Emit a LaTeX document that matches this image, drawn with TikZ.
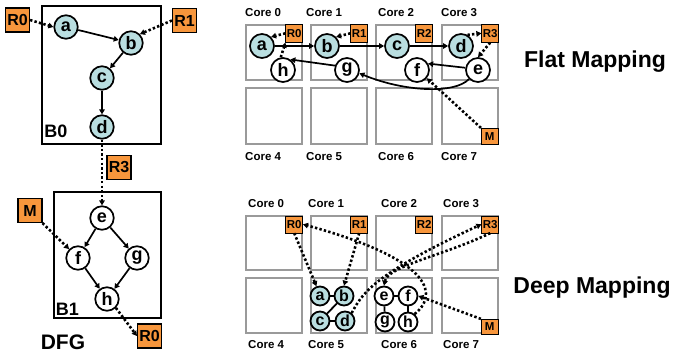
\documentclass[tikz,border=0pt]{standalone}
\usepackage{fontspec}
\setmainfont{Liberation Sans}
\usetikzlibrary{arrows.meta}
\definecolor{orng}{HTML}{F7963C}
\definecolor{opblue}{HTML}{B9DEE0}
\definecolor{coregray}{HTML}{9A9A9A}
\tikzset{
  corebox/.style={draw=coregray, line width=2.4pt, fill=white},
  reg/.style={draw=black, line width=0.6pt, fill=orng, inner sep=0pt, minimum width=17pt, minimum height=18pt, font=\bfseries\fontsize{11.5}{11.5}\selectfont},
  bigreg/.style={draw=black, line width=1.1pt, fill=orng, inner sep=0pt, minimum width=24pt, minimum height=24pt, font=\bfseries\fontsize{16}{16}\selectfont},
  opnode/.style={circle, draw=black, line width=1.7pt, inner sep=0pt, minimum size=24pt, font=\bfseries\fontsize{18}{18}\selectfont},
  dfgop/.style={opnode, minimum size=23.5pt},
  smallop/.style={circle, draw=black, line width=1.8pt, inner sep=0pt, minimum size=19pt, font=\bfseries\fontsize{16}{16}\selectfont},
  live/.style={fill=opblue},
  dead/.style={fill=white},
  flow/.style={line width=1.7pt, -{Triangle[length=5pt,width=5.5pt]}},
  link/.style={line width=1.8pt},
  dep/.style={line width=2.6pt, dash pattern=on 2.4pt off 2.2pt, -{Triangle[length=5pt,width=5.5pt]}},
  corelabel/.style={anchor=west, inner sep=0pt, font=\bfseries\fontsize{11.5}{12}\selectfont},
  blocklabel/.style={inner sep=0pt, font=\bfseries\fontsize{18}{18}\selectfont},
  title/.style={inner sep=0pt, font=\bfseries\fontsize{23}{23}\selectfont},
  blockbox/.style={draw=black, line width=1.1pt},
}
\begin{document}
\begin{tikzpicture}[x=1pt,y=-1pt]
\useasboundingbox (0,0) rectangle (676,356);

% ================= DFG =================
\draw[blockbox] (42,6) rectangle (161,144);
\draw[blockbox] (54,192) rectangle (161,318);
\node[blocklabel] (lb0) at (56,131) {B0};
\node[blocklabel] (lb1) at (67.5,309.5) {B1};
\node[inner sep=0pt, font=\bfseries\fontsize{21}{21}\selectfont] (ldfg) at (63,342.5) {DFG};

\node[dfgop,live] (Da) at (66,27) {a};
\node[dfgop,live] (Db) at (131,43) {b};
\node[dfgop,live] (Dc) at (102,78) {c};
\node[dfgop,live] (Dd) at (102,127) {d};
\node[dfgop,dead] (De) at (102,218) {e};
\node[dfgop,dead] (Df) at (78,258) {f};
\node[dfgop,dead] (Dg) at (137,258) {g};
\node[dfgop,dead] (Dh) at (107,299) {h};

\node[bigreg] (DR0) at (17.5,20) {R0};
\node[bigreg] (DR1) at (184.5,20.5) {R1};
\node[bigreg] (DR3) at (119,167.5) {R3};
\node[bigreg] (DM) at (30,210.5) {M};
\node[bigreg] (DR0b) at (149.5,336) {R0};

\draw[dep] (DR0.east) -- (Da.west);
\draw[dep] (DR1.west) -- (Db.north east);
\draw[flow] (Da) -- (Db);
\draw[flow] (Db) -- (Dc);
\draw[flow] (Dc) -- (Dd);
\draw[dep] (Dd.south) -- (De.north);
\draw[dep] (DM.south east) -- (Df.north west);
\draw[flow] (De) -- (Df);
\draw[flow] (De) -- (Dg);
\draw[flow] (Df) -- (Dh);
\draw[flow] (Dg) -- (Dh);
\draw[dep] (Dh.south east) -- (DR0b.west);

% ================= Flat mapping =================
\foreach \cx/\lx/\n/\m in {245/245/0/4, 310/306/1/5, 375/378/2/6, 441/441/3/7}{
  \draw[corebox] (\cx+1,25) rectangle (\cx+57,80);
  \draw[corebox] (\cx+1,88) rectangle (\cx+57,144);
  \node[corelabel] (fl\n) at (\lx,13) {Core \n};
  \node[corelabel] (fl\m) at (\lx,157) {Core \m};
}
\node[reg, anchor=north east] (FR0) at (303,24) {R0};
\node[reg, anchor=north east] (FR1) at (368,24) {R1};
\node[reg, anchor=north east] (FR2) at (433,24) {R2};
\node[reg, anchor=north east] (FR3) at (499,24) {R3};
\node[reg, anchor=south east, minimum height=16pt] (FM) at (498.5,144.5) {M};

\node[opnode,live] (Fa) at (262,46) {a};
\node[opnode,live] (Fb) at (327,46) {b};
\node[opnode,live] (Fc) at (397,46) {c};
\node[opnode,live] (Fd) at (461,46) {d};
\node[opnode,dead] (Fh) at (283,70) {h};
\node[opnode,dead] (Fg) at (347,70) {g};
\node[opnode,dead] (Ff) at (417,70) {f};
\node[opnode,dead] (Fe) at (478,70) {e};

\draw[dep] (FR0.west) -- (Fa.north east);
\draw[dep] (FR1.west) -- (Fb.north east);
\draw[dep] (Fh.100) -- (FR0.south west);
\draw[flow] (Fa.east) -- (Fb.west);
\draw[flow] (Fb.east) -- (Fc.west);
\draw[flow] (Fc.east) -- (Fd.west);
\draw[dep] (Fd.60) -- (FR3.west);
\draw[dep] (FR3.south) -- (Fe.north);
\draw[flow] (Fe.170) -- (Ff.30);
\draw[flow] (Fe.225) .. controls (455,94) and (405,92) .. (Fg.-15);
\draw[flow] (Fg.160) -- (Fh.55);
\draw[dep] (FM.north west) -- (Ff.-40);

\node[title] (tflat) at (595,62) {Flat Mapping};

% ================= Deep mapping =================
\foreach \cx/\lx/\n/\m in {245/248/0/4, 310/308/1/5, 375/381/2/6, 441/443/3/7}{
  \draw[corebox] (\cx+1,216) rectangle (\cx+57,270);
  \draw[corebox] (\cx+1,278) rectangle (\cx+57,333);
  \node[corelabel] (dl\n) at (\lx,204) {Core \n};
  \node[corelabel] (dl\m) at (\lx,345) {Core \m};
}
\node[reg, anchor=north east, minimum height=17pt] (PR0) at (303,215.5) {R0};
\node[reg, anchor=north east, minimum height=17pt] (PR1) at (368,215.5) {R1};
\node[reg, anchor=north east, minimum height=17pt] (PR2) at (433,215.5) {R2};
\node[reg, anchor=north east, minimum height=17pt] (PR3) at (499,215.5) {R3};
\node[reg, anchor=south east, minimum height=15pt] (PM) at (498.5,334.5) {M};

\node[smallop,live] (Pa) at (320,296) {a};
\node[smallop,live] (Pb) at (344,296) {b};
\node[smallop,live] (Pc) at (320,321) {c};
\node[smallop,live] (Pd) at (345,321) {d};
\node[smallop,dead] (Pe) at (384,296) {e};
\node[smallop,dead] (Pf) at (408,296) {f};
\node[smallop,dead] (Pg) at (385,322) {g};
\node[smallop,dead] (Ph) at (408,322) {h};

\draw[link] (Pa) -- (Pb);
\draw[link] (Pb) -- (Pc);
\draw[link] (Pc) -- (Pd);
\draw[link] (Pe) -- (Pf);
\draw[link] (Pe) -- (Pg);
\draw[link] (Pf) -- (Ph);

\draw[dep] (PR0.south) -- (Pa.110);
\draw[dep] (PR1.south) -- (Pb.north);
\draw[dep] (Pd.50) .. controls (362,294) and (372,275) .. (PR3.west);
\draw[dep] (PR3.south) .. controls (445,255) and (388,266) .. (Pe.north);
\draw[dep] (Ph.50) .. controls (436,297) and (440,262) .. (PR0.east);
\draw[dep] (PM.north west) -- (Pf.east);

\node[title] (tdeep) at (592,288) {Deep Mapping};
\end{tikzpicture}
\end{document}
